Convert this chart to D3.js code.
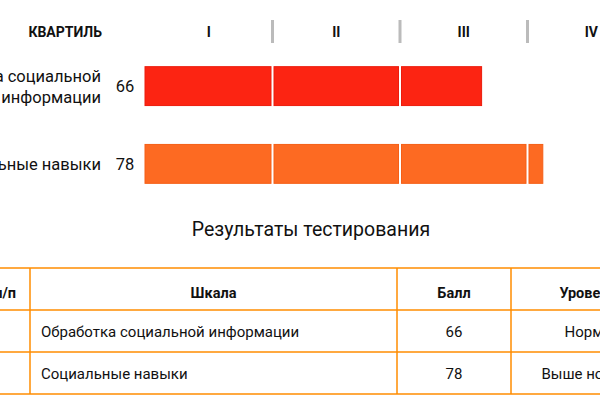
<!DOCTYPE html>
<html><head><meta charset="utf-8">
<script src="https://cdn.jsdelivr.net/npm/d3@7"></script>
<style>body{margin:0;overflow:hidden;background:#fff}text{font-family:Roboto,sans-serif;fill:#111}</style>
</head><body><svg id="c" width="600" height="400"></svg>
<script>
var scales = [["Обработка социальной", "информации"], ["Социальные навыки"]];
var fullNames = ["Обработка социальной информации", "Социальные навыки"];
var scores = [66, 78];
var levels = ["Норма", "Выше нормы"];
var quartiles = ["I", "II", "III", "IV"];
var colors = ["#fc2412", "#fd6a22"];
var strokes = ["#ec1c0c", "#f55f16"];
var headers = ["№ п/п", "Шкала", "Балл", "Уровень"];

var svg = d3.select("#c");
var x = d3.scaleLinear().domain([0, 100]).range([145, 655]);
var y = d3.scaleBand().domain(d3.range(scores.length)).range([55, 195]).paddingInner(0.5).paddingOuter(0.15);

svg.append("text").attr("x", 102).attr("y", 37).attr("text-anchor", "end")
    .attr("font-size", 14).attr("font-weight", "bold").text("КВАРТИЛЬ");

svg.selectAll(".q").data(quartiles).enter().append("text")
    .attr("x", function (d, i) { return x(i * 25 + 12.5); })
    .attr("y", 37).attr("text-anchor", "middle")
    .attr("font-size", 14).attr("font-weight", "bold").text(function (d) { return d; });

svg.selectAll(".sep").data([25, 50, 75]).enter().append("rect")
    .attr("x", function (d) { return x(d) - 1.5; }).attr("y", 20)
    .attr("width", 3).attr("height", 23).attr("fill", "#bbb");

scores.forEach(function (s, i) {
    var g = svg.append("g");
    var segs = d3.range(4).map(function (q) {
        return [q * 25, Math.min(s, (q + 1) * 25)];
    }).filter(function (d) { return d[1] > d[0]; });
    g.selectAll("rect").data(segs).enter().append("rect")
        .attr("x", function (d) { return x(d[0]) + (d[0] > 0 ? 1.5 : 0); })
        .attr("y", y(i))
        .attr("width", function (d) { return x(d[1]) - x(d[0]) - (d[0] > 0 ? 1.5 : 0) - (d[1] % 25 === 0 ? 1.5 : 0); })
        .attr("height", y.bandwidth())
        .attr("fill", colors[i]).attr("stroke", strokes[i]);
    var cy = y(i) + y.bandwidth() / 2;
    var lines = scales[i];
    lines.forEach(function (l, k) {
        g.append("text").attr("x", 101).attr("y", cy + 6 + (k - (lines.length - 1) / 2) * 21)
            .attr("text-anchor", "end").attr("font-size", 16.5).text(l);
    });
    g.append("text").attr("x", 125).attr("y", cy + 6).attr("text-anchor", "middle")
        .attr("font-size", 16.5).text(s);
});

svg.append("text").attr("x", 311).attr("y", 236).attr("text-anchor", "middle")
    .attr("font-size", 19.5).text("Результаты тестирования");

// table
var colX = [-60, 30, 397, 511, 700];
var rowY = [268, 310, 352, 394];
var orange = "#ff8c00";
rowY.forEach(function (yy) {
    svg.append("line").attr("x1", -60).attr("x2", 700).attr("y1", yy).attr("y2", yy)
        .attr("stroke", orange).attr("stroke-width", 1.5);
});
colX.forEach(function (xx) {
    svg.append("line").attr("x1", xx).attr("x2", xx).attr("y1", 268).attr("y2", 394)
        .attr("stroke", orange).attr("stroke-width", 1.5);
});
var mid = function (c) { return (colX[c] + colX[c + 1]) / 2; };
headers.forEach(function (h, c) {
    svg.append("text").attr("x", c === 0 ? 16 : (c === 3 ? 588 : mid(c))).attr("y", 298)
        .attr("text-anchor", c === 0 ? "end" : "middle")
        .attr("font-size", 14.5).attr("font-weight", "bold").text(h);
});
fullNames.forEach(function (n, i) {
    var ty = rowY[i + 1] + 27;
    svg.append("text").attr("x", 41).attr("y", ty).attr("font-size", 15).text(n);
    svg.append("text").attr("x", mid(2)).attr("y", ty).attr("text-anchor", "middle").attr("font-size", 15).text(scores[i]);
    svg.append("text").attr("x", 588).attr("y", ty).attr("text-anchor", "middle").attr("font-size", 15).text(levels[i]);
});
</script></body></html>
